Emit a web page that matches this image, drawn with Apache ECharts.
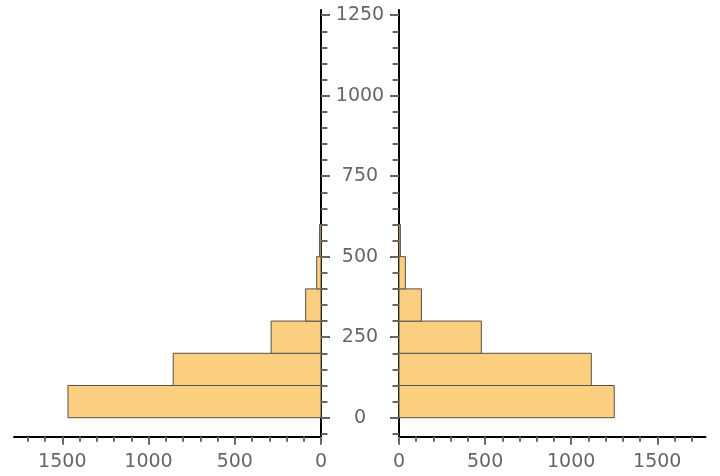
<!DOCTYPE html>
<html>
<head>
<meta charset="utf-8">
<script src="https://cdn.jsdelivr.net/npm/echarts@6/dist/echarts.min.js"></script>
<style>
html,body{margin:0;padding:0;background:#fff;}
#chart{width:720px;height:476px;}
</style>
</head>
<body>
<div id="chart"></div>
<script>
// ---- data ----
const binStarts = [0, 100, 200, 300, 400, 500];
const binEnds = [100, 200, 300, 400, 500, 600];
const leftCounts = [1467, 857, 289, 89, 25, 8];
const rightCounts = [1250, 1117, 478, 130, 37, 8];
const xMajorTicks = [0, 500, 1000, 1500];
const xMinorTicks = [0, 100, 200, 300, 400, 500, 600, 700, 800, 900, 1000, 1100, 1200, 1300, 1400, 1500, 1600, 1700];
const yMajorTicks = [0, 250, 500, 750, 1000, 1250];
const yMinorTicks = [-50, 0, 50, 100, 150, 200, 250, 300, 350, 400, 450, 500, 550, 600, 650, 700, 750, 800, 850, 900, 950, 1000, 1050, 1100, 1150, 1200, 1250];

const X_MAX = 1780, Y_MIN = -59, Y_MAX = 1266;
const FONT = 'DejaVu Sans';
const LABEL_COLOR = '#666';
const TICK_COLOR = '#666';
const TICK_W = 2;
const plain = v => String(v);

const chart = echarts.init(document.getElementById('chart'), null, {renderer: 'canvas'});

function xAxisMajor(grid, inverse) {
  return {
    type: 'value', gridIndex: grid, min: 0, max: X_MAX, inverse: inverse, position: 'bottom',
    axisLine: {show: true, onZero: false, lineStyle: {color: '#000', width: 2}},
    axisTick: {show: true, length: 8, customValues: xMajorTicks, lineStyle: {color: TICK_COLOR, width: TICK_W}},
    axisLabel: {show: true, customValues: xMajorTicks, formatter: plain, margin: 16, color: LABEL_COLOR, fontFamily: FONT, fontSize: 19},
    splitLine: {show: false}
  };
}
function xAxisMinor(grid, inverse) {
  return {
    type: 'value', gridIndex: grid, min: 0, max: X_MAX, inverse: inverse, position: 'bottom',
    axisLine: {show: false, onZero: false},
    axisTick: {show: true, length: 5, customValues: xMinorTicks, lineStyle: {color: TICK_COLOR, width: TICK_W}},
    axisLabel: {show: false},
    splitLine: {show: false}
  };
}
function yAxisMajor(grid, pos, showLabels) {
  return {
    type: 'value', gridIndex: grid, min: Y_MIN, max: Y_MAX, position: pos,
    axisLine: {show: true, onZero: false, lineStyle: {color: '#000', width: 2}},
    axisTick: {show: true, length: 9, customValues: yMajorTicks, lineStyle: {color: TICK_COLOR, width: TICK_W}},
    axisLabel: {show: showLabels, customValues: yMajorTicks, formatter: plain, margin: 39, align: 'center', color: LABEL_COLOR, fontFamily: FONT, fontSize: 19},
    splitLine: {show: false}
  };
}
function yAxisMinor(grid, pos) {
  return {
    type: 'value', gridIndex: grid, min: Y_MIN, max: Y_MAX, position: pos,
    axisLine: {show: false, onZero: false},
    axisTick: {show: true, length: 6.5, customValues: yMinorTicks, lineStyle: {color: TICK_COLOR, width: TICK_W}},
    axisLabel: {show: false},
    splitLine: {show: false}
  };
}

function barRender(params, api) {
  const v = api.value(0), y0 = api.value(1), y1 = api.value(2);
  const p0 = api.coord([0, y0]);
  const p1 = api.coord([v, y1]);
  return {
    type: 'rect',
    shape: {
      x: Math.min(p0[0], p1[0]), y: Math.min(p0[1], p1[1]),
      width: Math.abs(p1[0] - p0[0]), height: Math.abs(p1[1] - p0[1])
    },
    style: {fill: '#fcce80', stroke: '#55504a', lineWidth: 1}
  };
}

const leftData = leftCounts.map((c, i) => [c, binStarts[i], binEnds[i]]);
const rightData = rightCounts.map((c, i) => [c, binStarts[i], binEnds[i]]);

chart.setOption({
  animation: false,
  grid: [
    {left: 14, right: 399, top: 10, bottom: 39.3, containLabel: false},
    {left: 399, right: 14.5, top: 10, bottom: 39.3, containLabel: false}
  ],
  xAxis: [xAxisMinor(0, true), xAxisMajor(0, true), xAxisMinor(1, false), xAxisMajor(1, false)],
  yAxis: [yAxisMinor(0, 'right'), yAxisMajor(0, 'right', true), yAxisMinor(1, 'left'), yAxisMajor(1, 'left', false)],
  series: [
    {type: 'custom', xAxisIndex: 1, yAxisIndex: 1, renderItem: barRender, data: leftData, encode: {x: 0, y: [1, 2]}, clip: false},
    {type: 'custom', xAxisIndex: 3, yAxisIndex: 3, renderItem: barRender, data: rightData, encode: {x: 0, y: [1, 2]}, clip: false}
  ]
});
</script>
</body>
</html>
